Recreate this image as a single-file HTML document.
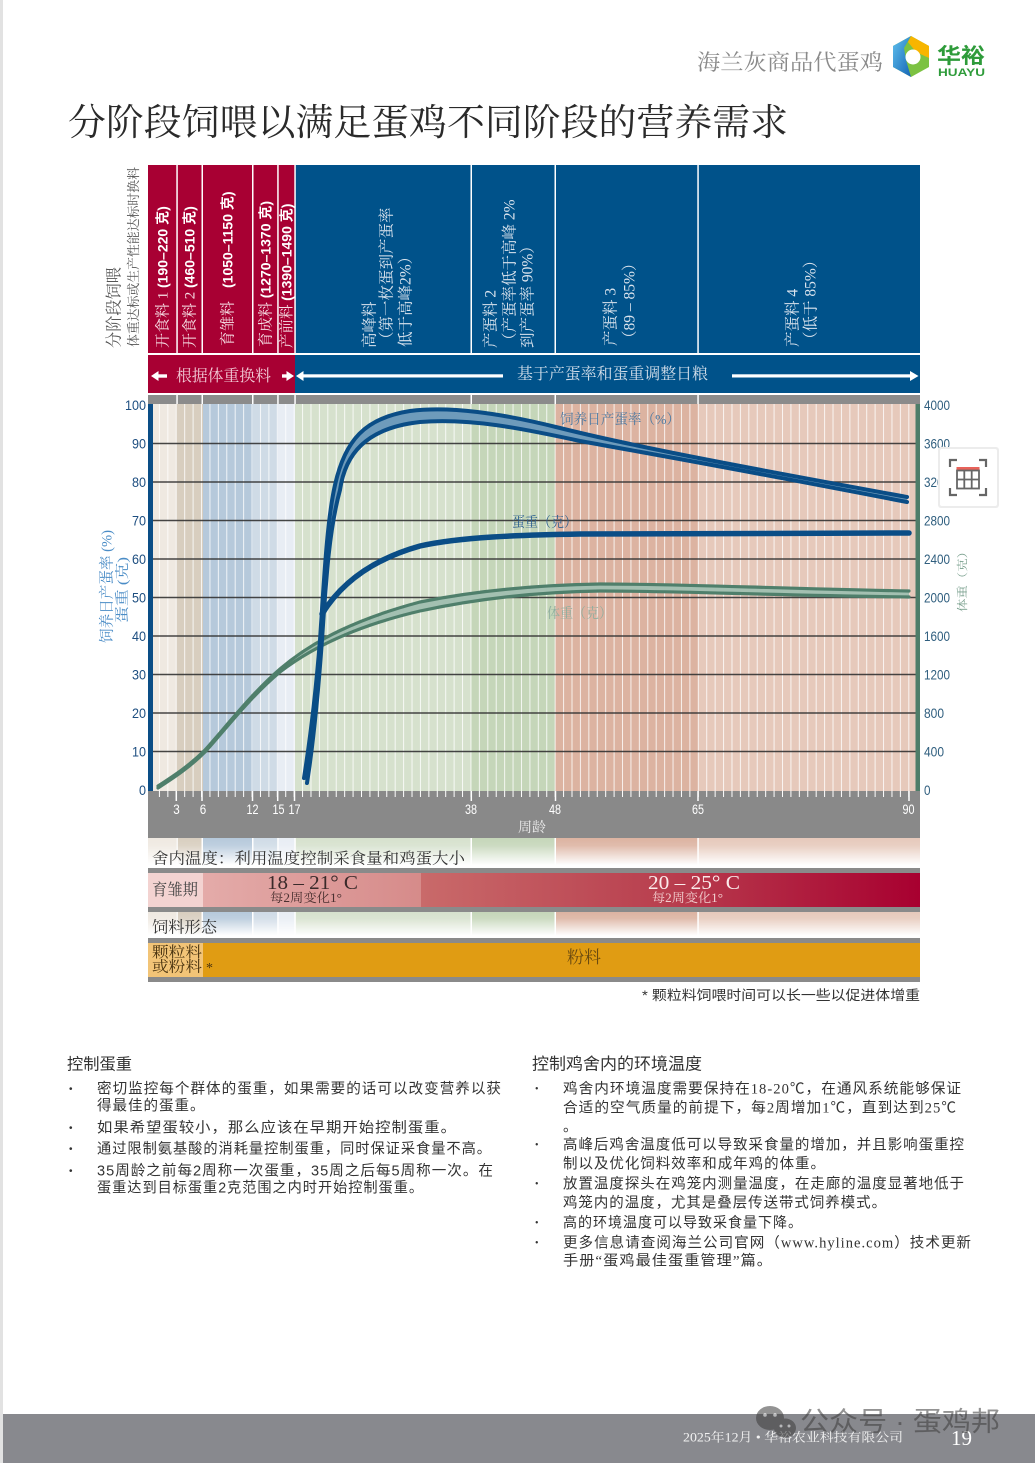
<!DOCTYPE html>
<html><head><meta charset="utf-8">
<style>
html,body{margin:0;padding:0;background:#fff;}
svg{display:block;}
.s{font-family:"Liberation Serif","Noto Serif CJK SC",serif;}
.h{font-family:"Liberation Sans","Noto Sans CJK SC",sans-serif;}
.n{font-family:"Liberation Sans Narrow","Liberation Sans",sans-serif;}
.r{font-family:"Liberation Serif","Noto Sans CJK SC",sans-serif;}
</style></head><body>
<svg width="1035" height="1463" viewBox="0 0 1035 1463" xmlns="http://www.w3.org/2000/svg">
<defs>
<pattern id="wk" x="150.5" y="0" width="8.42" height="10" patternUnits="userSpaceOnUse"><rect x="0" y="0" width="1" height="10" fill="#fff"/></pattern>
<linearGradient id="fade" x1="0" y1="0" x2="0" y2="1"><stop offset="0" stop-color="#fff" stop-opacity="0"/><stop offset="0.25" stop-color="#fff" stop-opacity="0.12"/><stop offset="0.9" stop-color="#fff" stop-opacity="1"/><stop offset="1" stop-color="#fff" stop-opacity="1"/></linearGradient>
<linearGradient id="red1" x1="0" x2="1" y1="0" y2="0"><stop offset="0" stop-color="#e4aba9"/><stop offset="1" stop-color="#d68b8a"/></linearGradient>
<linearGradient id="red2" x1="0" x2="1" y1="0" y2="0"><stop offset="0" stop-color="#c96a6a"/><stop offset="0.5" stop-color="#b83e4e"/><stop offset="1" stop-color="#a80030"/></linearGradient>
<linearGradient id="lgb" x1="0" x2="1" y1="0" y2="1"><stop offset="0" stop-color="#5fc0ee"/><stop offset="1" stop-color="#1565b5"/></linearGradient>
<g id="cols">
<rect x="148" y="0" width="28" height="1" fill="#efe9e1"/>
<rect x="176" y="0" width="27" height="1" fill="#d8cebf"/>
<rect x="203" y="0" width="50" height="1" fill="#b6c9db"/>
<rect x="253" y="0" width="25" height="1" fill="#cfdbe6"/>
<rect x="278" y="0" width="17" height="1" fill="#e8edf4"/>
<rect x="295" y="0" width="176" height="1" fill="#d6e1cd"/>
<rect x="471" y="0" width="84" height="1" fill="#c5d6b9"/>
<rect x="555" y="0" width="143" height="1" fill="#dcb3a1"/>
<rect x="698" y="0" width="222" height="1" fill="#e6c9bb"/>
</g>
<g id="seps" fill="#fff">
<rect x="176.3" y="0" width="1.5" height="1"/>
<rect x="201.5" y="0" width="1.5" height="1"/>
<rect x="252" y="0" width="1.5" height="1"/>
<rect x="277.2" y="0" width="1.5" height="1"/>
<rect x="294.3" y="0" width="1.5" height="1"/>
<rect x="470.5" y="0" width="1.5" height="1"/>
<rect x="554.5" y="0" width="1.5" height="1"/>
<rect x="697.3" y="0" width="1.5" height="1"/>
</g>
</defs>

<rect x="0" y="0" width="1035" height="1463" fill="#fff"/>
<rect x="0" y="0" width="3" height="1463" fill="#e2e2e2"/>

<text class="s" x="697" y="70" font-size="22" textLength="186" lengthAdjust="spacingAndGlyphs" fill="#8a8a8a">海兰灰商品代蛋鸡</text>
<g>
<polygon points="911,36 929,46 929,67 911,77 893,67 893,46" fill="#7cc242"/>
<polygon points="911,36 893,46 893,67 911,77 906,60 904,48" fill="url(#lgb)"/>
<polygon points="911,36 929,46 929,58 916,52 908,42" fill="#f7b500"/>
<circle cx="913" cy="57" r="7.5" fill="#fff"/>
</g>
<text class="h" x="937" y="63" font-size="21" font-weight="bold" textLength="48" lengthAdjust="spacingAndGlyphs" fill="#2e9b3a">华裕</text>
<text class="h" x="938" y="76" font-size="11" font-weight="bold" textLength="47" lengthAdjust="spacingAndGlyphs" fill="#2e9b3a">HUAYU</text>

<text class="s" x="68" y="135" font-size="37" textLength="720" lengthAdjust="spacingAndGlyphs" fill="#2a2a2a">分阶段饲喂以满足蛋鸡不同阶段的营养需求</text>

<text class="s" transform="translate(119.5,348) rotate(-90)" font-size="16.5" textLength="81" lengthAdjust="spacingAndGlyphs" fill="#555">分阶段饲喂</text>
<text class="s" transform="translate(138,347) rotate(-90)" font-size="12.8" textLength="180" lengthAdjust="spacingAndGlyphs" fill="#555">体重达标或生产性能达标时换料</text>

<rect x="148" y="165" width="28.3" height="188" fill="#a80033"/>
<rect x="177.8" y="165" width="23.7" height="188" fill="#a80033"/>
<rect x="203" y="165" width="49" height="188" fill="#a80033"/>
<rect x="253.5" y="165" width="23.7" height="188" fill="#a80033"/>
<rect x="278.7" y="165" width="15.6" height="188" fill="#a80033"/>
<rect x="295.8" y="165" width="174.7" height="188" fill="#00528a"/>
<rect x="472" y="165" width="82.5" height="188" fill="#00528a"/>
<rect x="556" y="165" width="141.3" height="188" fill="#00528a"/>
<rect x="698.8" y="165" width="221.2" height="188" fill="#00528a"/>

<text transform="translate(167.5,348) rotate(-90)" fill="#fff"><tspan class="s" font-size="15" fill="#f6dfe5">开食料 1 </tspan><tspan class="h" font-weight="bold" font-size="14">(190–220 克)</tspan></text>
<text transform="translate(194.5,348) rotate(-90)" fill="#fff"><tspan class="s" font-size="15" fill="#f6dfe5">开食料 2 </tspan><tspan class="h" font-weight="bold" font-size="14">(460–510 克)</tspan></text>
<text transform="translate(232.5,346) rotate(-90)" fill="#fff"><tspan class="s" font-size="15" fill="#f6dfe5">育雏料</tspan><tspan class="h" font-weight="bold" font-size="14" dx="13">(1050–1150 克)</tspan></text>
<text transform="translate(270.5,347) rotate(-90)" fill="#fff"><tspan class="s" font-size="15" fill="#f6dfe5">育成料 </tspan><tspan class="h" font-weight="bold" font-size="14">(1270–1370 克)</tspan></text>
<text transform="translate(291.5,348) rotate(-90)" fill="#fff"><tspan class="s" font-size="14.5" fill="#f6dfe5">产前料 </tspan><tspan class="h" font-weight="bold" font-size="14">(1390–1490 克)</tspan></text>

<g class="s" font-size="15.5" fill="#dbe4ee">
<text transform="translate(374.7,348) rotate(-90)">高峰料</text>
<text transform="translate(391.7,347) rotate(-90)">（第一枚蛋到产蛋率</text>
<text transform="translate(410.7,347) rotate(-90)">低于高峰2%）</text>
<text transform="translate(495.7,348) rotate(-90)">产蛋料 2</text>
<text transform="translate(514.7,348) rotate(-90)">（产蛋率低于高峰 2%</text>
<text transform="translate(532.7,348) rotate(-90)">到产蛋率 90%）</text>
<text transform="translate(615.7,346) rotate(-90)">产蛋料 3</text>
<text transform="translate(634.7,346) rotate(-90)">（89 – 85%）</text>
<text transform="translate(797.7,347) rotate(-90)">产蛋料 4</text>
<text transform="translate(815.7,347) rotate(-90)">（低于 85%）</text>
</g>

<rect x="148" y="355" width="147" height="38" fill="#a80033"/>
<rect x="295" y="355" width="625" height="38" fill="#00528a"/>
<polygon points="151,376 158.5,371 158.5,381" fill="#fff"/>
<rect x="157" y="374.3" width="10" height="3.4" fill="#fff"/>
<text class="s" x="176" y="381" font-size="16" textLength="95" lengthAdjust="spacingAndGlyphs" fill="#f2cad6">根据体重换料</text>
<rect x="282" y="374.3" width="6" height="3.4" fill="#fff"/>
<polygon points="294,376 286.5,371 286.5,381" fill="#fff"/>
<polygon points="296,376 303.5,371 303.5,381" fill="#fff"/>
<rect x="302" y="374.3" width="201" height="3.2" fill="#fff"/>
<text class="s" x="517" y="379" font-size="16" textLength="191" lengthAdjust="spacingAndGlyphs" fill="#d2deea">基于产蛋率和蛋重调整日粮</text>
<rect x="732" y="374.3" width="179" height="3.2" fill="#fff"/>
<polygon points="918.5,376 910,371 910,381" fill="#fff"/>

<rect x="148" y="395" width="772" height="9" fill="#8b8b8b"/>
<use href="#seps" transform="translate(0,395) scale(1,9)"/>

<use href="#cols" transform="translate(0,404) scale(1,387)"/>
<rect x="153" y="404" width="763" height="387" fill="url(#wk)" opacity="0.8"/>

<g stroke="#333" stroke-width="1.5" opacity="0.9">
<line x1="153" y1="751.5" x2="916" y2="751.5"/>
<line x1="153" y1="713" x2="916" y2="713"/>
<line x1="153" y1="674.5" x2="916" y2="674.5"/>
<line x1="153" y1="636" x2="916" y2="636"/>
<line x1="153" y1="597.5" x2="916" y2="597.5"/>
<line x1="153" y1="559" x2="916" y2="559"/>
<line x1="153" y1="520.5" x2="916" y2="520.5"/>
<line x1="153" y1="482" x2="916" y2="482"/>
<line x1="153" y1="443.5" x2="916" y2="443.5"/>
</g>

<path d="M 158,786 C 175,775 190,765 205,750 C 225,728 250,695 280,669 C 315,639 360,618 420,602 C 480,590 540,585 600,584 C 680,584 760,588 909,591 L 909,597 C 760,595 680,591 600,591 C 540,592 480,598 420,611 C 360,625 315,645 280,672 C 250,697 225,730 205,752 C 190,767 175,777 158,788 Z" fill="#a3c0b1"/>
<g fill="none" stroke="#4f7f6b" stroke-width="3.2" stroke-linecap="round">
<path d="M 158,786 C 175,775 190,765 205,750 C 225,728 250,695 280,669 C 315,639 360,618 420,602 C 480,590 540,585 600,584 C 680,584 760,588 909,591"/>
<path d="M 158,788 C 175,777 190,767 205,752 C 225,730 250,697 280,672 C 315,645 360,625 420,611 C 480,598 540,592 600,591 C 680,591 760,595 909,597"/>
</g>

<path d="M 304,778 C 310,740 316,690 320,640 C 324,580 327,520 335,485 C 345,440 365,418 410,411 C 450,406 500,413 560,428 C 640,448 760,470 907,497 L 907,502 C 700,462 640,452 580,441 C 520,428 470,418 420,422 C 365,428 345,455 340,490 C 329,530 326,580 322,640 C 318,695 313,745 307,783 Z" fill="#6e9bbb"/>
<g fill="none" stroke="#0a4d86" stroke-width="4" stroke-linecap="round">
<path d="M 304,778 C 310,740 316,690 320,640 C 324,580 327,520 335,485 C 345,440 365,418 410,411 C 450,406 500,413 560,428 C 640,448 760,470 907,497"/>
<path d="M 307,783 C 313,745 318,695 322,640 C 326,580 329,530 340,490 C 345,455 365,428 420,422 C 470,418 520,428 580,441 C 640,452 700,462 907,502"/>
</g>
<path d="M 322,614 C 340,585 370,560 420,546 C 460,537 520,535 580,534 L 909,533" fill="none" stroke="#0a4d86" stroke-width="5.5" stroke-linecap="round"/>

<text class="s" x="560" y="424" font-size="14" textLength="120" lengthAdjust="spacingAndGlyphs" fill="#4b7aa3">饲养日产蛋率（%）</text>
<text class="s" x="512" y="527" font-size="14" textLength="65" lengthAdjust="spacingAndGlyphs" fill="#2e6190">蛋重（克）</text>
<text class="s" x="547" y="618" font-size="14" textLength="65" lengthAdjust="spacingAndGlyphs" fill="#8fae9f">体重（克）</text>

<rect x="148" y="404" width="5" height="388" fill="#0a4d86"/>
<rect x="915.5" y="404" width="4.5" height="388" fill="#4d7d69"/>

<g class="n" font-size="14" fill="#1d4e80" text-anchor="end">
<text x="146" y="410" textLength="21" lengthAdjust="spacingAndGlyphs">100</text>
<text x="146" y="448.5" textLength="14" lengthAdjust="spacingAndGlyphs">90</text>
<text x="146" y="487" textLength="14" lengthAdjust="spacingAndGlyphs">80</text>
<text x="146" y="525.5" textLength="14" lengthAdjust="spacingAndGlyphs">70</text>
<text x="146" y="564" textLength="14" lengthAdjust="spacingAndGlyphs">60</text>
<text x="146" y="602.5" textLength="14" lengthAdjust="spacingAndGlyphs">50</text>
<text x="146" y="641" textLength="14" lengthAdjust="spacingAndGlyphs">40</text>
<text x="146" y="679.5" textLength="14" lengthAdjust="spacingAndGlyphs">30</text>
<text x="146" y="718" textLength="14" lengthAdjust="spacingAndGlyphs">20</text>
<text x="146" y="756.5" textLength="14" lengthAdjust="spacingAndGlyphs">10</text>
<text x="146" y="795" textLength="7" lengthAdjust="spacingAndGlyphs">0</text>
</g>
<text class="s" transform="translate(111.5,643) rotate(-90)" font-size="15" textLength="113" lengthAdjust="spacingAndGlyphs" fill="#4a8cc6">饲养日产蛋率 (%)</text>
<text class="s" transform="translate(127,623) rotate(-90)" font-size="14" textLength="66" lengthAdjust="spacingAndGlyphs" fill="#4a8cc6">蛋重 (克)</text>

<g class="n" font-size="14" fill="#2f5e7e">
<text x="924" y="410" textLength="26" lengthAdjust="spacingAndGlyphs">4000</text>
<text x="924" y="448.5" textLength="26" lengthAdjust="spacingAndGlyphs">3600</text>
<text x="924" y="487" textLength="26" lengthAdjust="spacingAndGlyphs">3200</text>
<text x="924" y="525.5" textLength="26" lengthAdjust="spacingAndGlyphs">2800</text>
<text x="924" y="564" textLength="26" lengthAdjust="spacingAndGlyphs">2400</text>
<text x="924" y="602.5" textLength="26" lengthAdjust="spacingAndGlyphs">2000</text>
<text x="924" y="641" textLength="26" lengthAdjust="spacingAndGlyphs">1600</text>
<text x="924" y="679.5" textLength="26" lengthAdjust="spacingAndGlyphs">1200</text>
<text x="924" y="718" textLength="20" lengthAdjust="spacingAndGlyphs">800</text>
<text x="924" y="756.5" textLength="20" lengthAdjust="spacingAndGlyphs">400</text>
<text x="924" y="795" textLength="6.5" lengthAdjust="spacingAndGlyphs">0</text>
</g>
<text class="s" transform="translate(966,612) rotate(-90)" font-size="11" textLength="67" lengthAdjust="spacingAndGlyphs" fill="#7aa08e">体重（克）</text>

<rect x="938" y="447" width="61" height="61" rx="3" fill="#ececec"/>
<rect x="940" y="449" width="57" height="57" rx="2" fill="#fff"/>
<g fill="none" stroke="#666" stroke-width="2.2">
<path d="M950,467 V460 H957"/>
<path d="M979,460 H986 V467"/>
<path d="M950,488 V495 H957"/>
<path d="M979,495 H986 V488"/>
</g>
<rect x="956.5" y="467" width="23" height="3" fill="#e8625a"/>
<g fill="none" stroke="#666" stroke-width="1.8">
<rect x="957" y="470.5" width="22" height="18"/>
<line x1="964.3" y1="470.5" x2="964.3" y2="488.5"/>
<line x1="971.7" y1="470.5" x2="971.7" y2="488.5"/>
<line x1="957" y1="479.5" x2="979" y2="479.5"/>
</g>

<rect x="148" y="791" width="772" height="47" fill="#898989"/>
<rect x="153" y="791" width="763" height="6" fill="url(#wk)"/>
<g stroke="#fff" stroke-width="1.5">
<line x1="176.3" y1="791" x2="176.3" y2="801"/>
<line x1="202" y1="791" x2="202" y2="801"/>
<line x1="252.5" y1="791" x2="252.5" y2="801"/>
<line x1="277.7" y1="791" x2="277.7" y2="801"/>
<line x1="294.5" y1="791" x2="294.5" y2="801"/>
<line x1="471.3" y1="791" x2="471.3" y2="801"/>
<line x1="555.5" y1="791" x2="555.5" y2="801"/>
<line x1="698" y1="791" x2="698" y2="801"/>
<line x1="909" y1="791" x2="909" y2="801"/>
</g>
<g class="n" font-size="14" fill="#fff" text-anchor="middle">
<text x="176.5" y="814" textLength="6.5" lengthAdjust="spacingAndGlyphs">3</text>
<text x="203" y="814" textLength="6.5" lengthAdjust="spacingAndGlyphs">6</text>
<text x="252.5" y="814" textLength="12" lengthAdjust="spacingAndGlyphs">12</text>
<text x="278.5" y="814" textLength="12" lengthAdjust="spacingAndGlyphs">15</text>
<text x="294.5" y="814" textLength="12" lengthAdjust="spacingAndGlyphs">17</text>
<text x="471" y="814" textLength="12" lengthAdjust="spacingAndGlyphs">38</text>
<text x="555" y="814" textLength="12" lengthAdjust="spacingAndGlyphs">48</text>
<text x="698" y="814" textLength="12" lengthAdjust="spacingAndGlyphs">65</text>
<text x="908.5" y="814" textLength="12" lengthAdjust="spacingAndGlyphs">90</text>
</g>
<text class="s" x="518" y="832" font-size="14" textLength="28" lengthAdjust="spacingAndGlyphs" fill="#ececec">周龄</text>

<use href="#cols" transform="translate(0,838) scale(1,30)"/>
<use href="#seps" transform="translate(0,838) scale(1,30)"/>
<rect x="148" y="838" width="772" height="30" fill="url(#fade)"/>
<text class="s" x="152" y="863.5" font-size="15.5" textLength="313" lengthAdjust="spacingAndGlyphs" fill="#333">舍内温度：利用温度控制采食量和鸡蛋大小</text>
<rect x="148" y="868" width="772" height="5" fill="#8a8a8a"/>

<rect x="148" y="873" width="55" height="34" fill="#f3d3d1"/>
<rect x="203" y="873" width="218" height="34" fill="url(#red1)"/>
<rect x="421" y="873" width="499" height="34" fill="url(#red2)"/>
<text class="s" x="152" y="895" font-size="16" textLength="46" lengthAdjust="spacingAndGlyphs" fill="#444">育雏期</text>
<text class="s" x="267" y="889" font-size="20" textLength="91" lengthAdjust="spacingAndGlyphs" fill="#3a2a2a">18 – 21° C</text>
<text class="s" x="270" y="902" font-size="12.5" textLength="72" lengthAdjust="spacingAndGlyphs" fill="#4a3030">每2周变化1°</text>
<text class="s" x="648" y="889" font-size="20" textLength="92" lengthAdjust="spacingAndGlyphs" fill="#fbeaea">20 – 25° C</text>
<text class="s" x="652" y="902" font-size="12.5" textLength="71" lengthAdjust="spacingAndGlyphs" fill="#f3d0d0">每2周变化1°</text>
<rect x="148" y="907" width="772" height="5" fill="#8a8a8a"/>

<use href="#cols" transform="translate(0,912) scale(1,26)"/>
<use href="#seps" transform="translate(0,912) scale(1,26)"/>
<rect x="148" y="912" width="772" height="26" fill="url(#fade)"/>
<text class="s" x="152" y="932.5" font-size="16" textLength="65" lengthAdjust="spacingAndGlyphs" fill="#333">饲料形态</text>
<rect x="148" y="938" width="772" height="5" fill="#8a8a8a"/>

<rect x="148" y="943" width="55" height="34" fill="#f2c477"/>
<rect x="203" y="943" width="717" height="34" fill="#e09c13"/>
<text class="s" x="152" y="957" font-size="15" textLength="50" lengthAdjust="spacingAndGlyphs" fill="#4a3410">颗粒料</text>
<text class="s" x="152" y="971.5" font-size="15" textLength="50" lengthAdjust="spacingAndGlyphs" fill="#4a3410">或粉料</text>
<text class="s" x="206" y="972" font-size="14" fill="#4a3410">*</text>
<text class="s" x="567" y="963" font-size="17" textLength="34" lengthAdjust="spacingAndGlyphs" fill="#6a4a10">粉料</text>
<rect x="148" y="977" width="772" height="5" fill="#8a8a8a"/>

<text class="h" x="642" y="1000" font-size="13.5" textLength="278" lengthAdjust="spacingAndGlyphs" fill="#333">* 颗粒料饲喂时间可以长一些以促进体增重</text>

<g class="h" font-size="14.5" fill="#333" letter-spacing="1">
<text x="67" y="1069.5" font-size="16" textLength="65" lengthAdjust="spacingAndGlyphs" letter-spacing="0">控制蛋重</text>
<text x="69" y="1092" font-size="10">•</text>
<text x="97" y="1093.4" textLength="405" lengthAdjust="spacingAndGlyphs">密切监控每个群体的蛋重，如果需要的话可以改变营养以获</text>
<text x="97" y="1110.4">得最佳的蛋重。</text>
<text x="69" y="1131" font-size="10">•</text>
<text x="97" y="1132.4" textLength="360" lengthAdjust="spacingAndGlyphs">如果希望蛋较小，那么应该在早期开始控制蛋重。</text>
<text x="69" y="1152" font-size="10">•</text>
<text x="97" y="1153.4" textLength="395" lengthAdjust="spacingAndGlyphs">通过限制氨基酸的消耗量控制蛋重，同时保证采食量不高。</text>
<text x="69" y="1174" font-size="10">•</text>
<text x="97" y="1175.4" textLength="397" lengthAdjust="spacingAndGlyphs">35周龄之前每2周称一次蛋重，35周之后每5周称一次。在</text>
<text x="97" y="1192.4" textLength="327" lengthAdjust="spacingAndGlyphs">蛋重达到目标蛋重2克范围之内时开始控制蛋重。</text>
</g>

<g class="r" font-size="14.5" fill="#333" letter-spacing="1">
<text x="532" y="1069.5" font-size="16.5" textLength="170" lengthAdjust="spacingAndGlyphs" letter-spacing="0" class="h">控制鸡舍内的环境温度</text>
<text x="535" y="1092" font-size="10">•</text>
<text x="563" y="1093.4" textLength="399" lengthAdjust="spacingAndGlyphs">鸡舍内环境温度需要保持在18-20℃，在通风系统能够保证</text>
<text x="563" y="1112.4" textLength="394" lengthAdjust="spacingAndGlyphs">合适的空气质量的前提下，每2周增加1℃，直到达到25℃</text>
<text x="563" y="1131.4">。</text>
<text x="535" y="1148" font-size="10">•</text>
<text x="563" y="1149.4" textLength="402" lengthAdjust="spacingAndGlyphs">高峰后鸡舍温度低可以导致采食量的增加，并且影响蛋重控</text>
<text x="563" y="1168.4" textLength="263" lengthAdjust="spacingAndGlyphs">制以及优化饲料效率和成年鸡的体重。</text>
<text x="535" y="1187" font-size="10">•</text>
<text x="563" y="1188.4" textLength="402" lengthAdjust="spacingAndGlyphs">放置温度探头在鸡笼内测量温度，在走廊的温度显著地低于</text>
<text x="563" y="1207.4" textLength="324" lengthAdjust="spacingAndGlyphs">鸡笼内的温度，尤其是叠层传送带式饲养模式。</text>
<text x="535" y="1226" font-size="10">•</text>
<text x="563" y="1227.4" textLength="240" lengthAdjust="spacingAndGlyphs">高的环境温度可以导致采食量下降。</text>
<text x="535" y="1246" font-size="10">•</text>
<text x="563" y="1247.4" textLength="409" lengthAdjust="spacingAndGlyphs">更多信息请查阅海兰公司官网（www.hyline.com）技术更新</text>
<text x="563" y="1265.4" textLength="210" lengthAdjust="spacingAndGlyphs">手册“蛋鸡最佳蛋重管理”篇。</text>
</g>

<rect x="3" y="1414" width="1032" height="49" fill="#88898e"/>
<text class="s" x="683" y="1441.5" font-size="12.5" textLength="220" lengthAdjust="spacingAndGlyphs" fill="#f2f2f2">2025年12月 • 华裕农业科技有限公司</text>
<text class="s" x="951" y="1445" font-size="21" textLength="21" lengthAdjust="spacingAndGlyphs" fill="#fff">19</text>
<g opacity="0.55">
<ellipse cx="770" cy="1418" rx="14" ry="12" fill="#3c3c3c"/>
<ellipse cx="785" cy="1428" rx="11" ry="9.5" fill="#3c3c3c"/>
<circle cx="765" cy="1415" r="1.8" fill="#ddd"/>
<circle cx="775" cy="1415" r="1.8" fill="#ddd"/>
<circle cx="781" cy="1426" r="1.5" fill="#ddd"/>
<circle cx="789" cy="1426" r="1.5" fill="#ddd"/>
<text class="h" x="800" y="1431" font-size="27" textLength="200" lengthAdjust="spacingAndGlyphs" fill="#3c3c3c">公众号 · 蛋鸡邦</text>
</g>
</svg>
</body></html>
